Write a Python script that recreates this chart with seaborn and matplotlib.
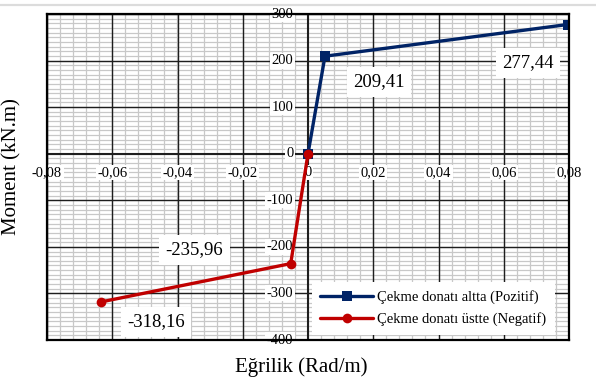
import matplotlib
matplotlib.use("Agg")
import matplotlib.pyplot as plt
from matplotlib.lines import Line2D
from matplotlib.ticker import MultipleLocator
import pandas as pd
import seaborn as sns

# Moment-curvature data
series_names = ["Çekme donatı altta (Pozitif)", "Çekme donatı üstte (Negatif)"]
curvature_pos = [0.0, 0.0052, 0.0796]
moment_pos = [0.0, 209.41, 277.44]
curvature_neg = [0.0, -0.0053, -0.0634]
moment_neg = [0.0, -235.96, -318.16]

x_ticks = [-0.08, -0.06, -0.04, -0.02, 0.0, 0.02, 0.04, 0.06, 0.08]
y_ticks = [-400, -300, -200, -100, 0, 100, 200, 300]

sns.set_style("white")
plt.rcParams["font.family"] = ["Liberation Serif", "DejaVu Serif"]
plt.rcParams["text.color"] = "black"

df = pd.DataFrame({
    "Eğrilik": curvature_pos + curvature_neg,
    "Moment": moment_pos + moment_neg,
    "Seri": [series_names[0]] * len(curvature_pos) + [series_names[1]] * len(curvature_neg),
})

fig = plt.figure(figsize=(5.96, 3.80), dpi=100)
ax = fig.add_axes([47 / 596, 40 / 380, 522 / 596, 326 / 380])

# fine grid underneath, major lines drawn on top of it
ax.set_xlim(-0.08, 0.08)
ax.set_ylim(-400, 300)
ax.xaxis.set_major_locator(MultipleLocator(0.02))
ax.xaxis.set_minor_locator(MultipleLocator(0.004))
ax.yaxis.set_major_locator(MultipleLocator(100))
ax.yaxis.set_minor_locator(MultipleLocator(10))
ax.grid(which="minor", color="#c8c8c8", lw=0.9)
ax.grid(which="major", color="#c8c8c8", lw=0.9)
ax.set_axisbelow(True)
for v in x_ticks:
    ax.axvline(v, color="#1e1e1e", lw=1.0 if v != 0 else 1.5, zorder=1)
for v in y_ticks:
    ax.axhline(v, color="#1e1e1e", lw=1.0 if v != 0 else 1.5, zorder=1)
ax.tick_params(which="both", length=0, labelbottom=False, labelleft=False)
for sp in ax.spines.values():
    sp.set_color("black")
    sp.set_linewidth(1.6)
    sp.set_zorder(6)

palette = {series_names[0]: "#002366", series_names[1]: "#C00000"}
sns.lineplot(data=df, x="Eğrilik", y="Moment", hue="Seri", style="Seri",
             palette=palette, markers={series_names[0]: "s", series_names[1]: "o"},
             dashes=False, sort=False, estimator=None, lw=2.4, markersize=7,
             markeredgewidth=0, ax=ax, legend=False, zorder=3)
ax.set_xlabel("")
ax.set_ylabel("")

# tick labels along the zero axes
box = dict(boxstyle="square,pad=0.1", fc="white", ec="none")
for v in x_ticks:
    txt = "0" if v == 0 else ("%.2f" % v).replace(".", ",")
    ax.annotate(txt, xy=(v, 0), xytext=(0, -13.5), textcoords="offset points",
                ha="center", va="center", fontsize=10.5, bbox=box, zorder=2)
for v in y_ticks:
    ax.annotate("%d" % v, xy=(0, v), xytext=(-10.5, 0), textcoords="offset points",
                ha="right", va="center", fontsize=10.5, bbox=box, zorder=2)

# value labels
label_box = dict(boxstyle="square,pad=0.35", fc="white", ec="none")
value_labels = [
    (moment_pos[1], (0.0218, 154.5)),
    (moment_pos[2], (0.0674, 195)),
    (moment_neg[1], (-0.0348, -206)),
    (moment_neg[2], (-0.0466, -360.5)),
]
for m, pos in value_labels:
    ax.text(pos[0], pos[1], ("%.2f" % m).replace(".", ","), ha="center", va="center",
            fontsize=13.5, bbox=label_box, zorder=4)

fig.text(301 / 596, 1 - 367 / 380, "Eğrilik (Rad/m)", ha="center", va="center", fontsize=15)
fig.text(12 / 596, 1 - 167 / 380, "Moment (kN.m)", ha="center", va="center",
         rotation=90, fontsize=15)

handles = [
    Line2D([], [], color=palette[series_names[0]], lw=2.4, marker="s", markersize=7, markeredgewidth=0),
    Line2D([], [], color=palette[series_names[1]], lw=2.4, marker="o", markersize=7, markeredgewidth=0),
]
leg = ax.legend(handles, series_names, loc="lower right",
                bbox_to_anchor=((555 - 47) / 522, 5 / 326), borderaxespad=0,
                fontsize=10.5, handlelength=3.6, handletextpad=0.3,
                labelspacing=0.55, frameon=True, fancybox=False, framealpha=1,
                borderpad=0.6)
leg.get_frame().set_edgecolor("none")
leg.get_frame().set_facecolor("white")
leg.set_zorder(5)

fig.add_artist(Line2D([0, 1], [1 - 4.5 / 380, 1 - 4.5 / 380], color="#dcdcdc", lw=1.6,
                      transform=fig.transFigure))

fig.savefig("out.png", dpi=100)
